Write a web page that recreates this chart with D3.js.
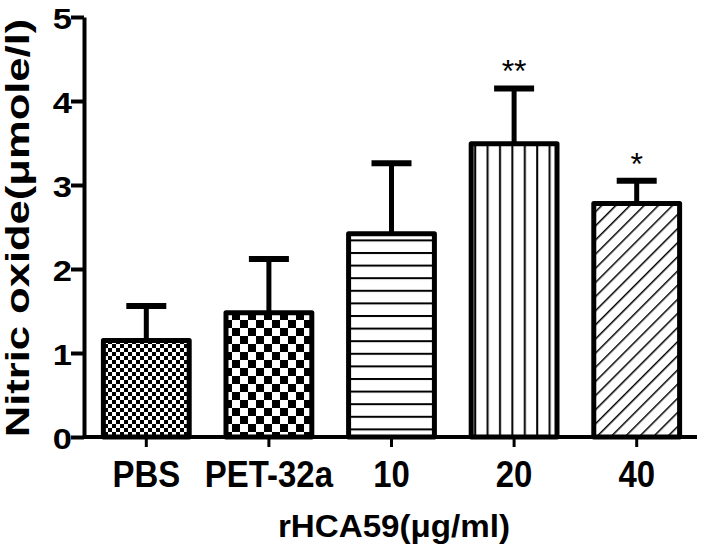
<!DOCTYPE html>
<html>
<head>
<meta charset="utf-8">
<script src="https://cdn.jsdelivr.net/npm/d3@7"></script>
<style>
  body { margin: 0; background: #fff; }
  text { font-family: "Liberation Sans", Arial, sans-serif; font-weight: bold; fill: #000; }
</style>
</head>
<body>
<svg id="chart"></svg>
<script>
// data
const groups = ["PBS", "PET-32a", "10", "20", "40"]
const means = [1.15, 1.48, 2.42, 3.49, 2.78]
const errors = [0.41, 0.64, 0.84, 0.66, 0.27]
const marks = ["", "", "", "**", "*"]
const patterns = ["fineCheck", "bigCheck", "hLines", "vLines", "diag"]
const yTicks = [0, 1, 2, 3, 4, 5]

let width = 707
let height = 548
let margin = { left: 84, right: 10, top: 17, bottom: 111 }

let svg = d3.select("#chart").attr("width", width).attr("height", height)

// patterns
let defs = svg.append("defs")

let p1 = defs.append("pattern").attr("id", "fineCheck").attr("patternUnits", "userSpaceOnUse")
    .attr("width", 8).attr("height", 8)
p1.append("rect").attr("width", 8).attr("height", 8).attr("fill", "#fff")
p1.append("rect").attr("width", 4).attr("height", 4).attr("fill", "#000")
p1.append("rect").attr("x", 4).attr("y", 4).attr("width", 4).attr("height", 4).attr("fill", "#000")

let p2 = defs.append("pattern").attr("id", "bigCheck").attr("patternUnits", "userSpaceOnUse")
    .attr("width", 16).attr("height", 16)
p2.append("rect").attr("width", 16).attr("height", 16).attr("fill", "#fff")
p2.append("rect").attr("width", 8).attr("height", 8).attr("fill", "#000")
p2.append("rect").attr("x", 8).attr("y", 8).attr("width", 8).attr("height", 8).attr("fill", "#000")

let p3 = defs.append("pattern").attr("id", "hLines").attr("patternUnits", "userSpaceOnUse")
    .attr("width", 12).attr("height", 12.6)
p3.append("rect").attr("width", 12).attr("height", 12.6).attr("fill", "#fff")
p3.append("line").attr("x1", 0).attr("x2", 12).attr("y1", 1).attr("y2", 1)
    .attr("stroke", "#000").attr("stroke-width", 2)

let p4 = defs.append("pattern").attr("id", "vLines").attr("patternUnits", "userSpaceOnUse")
    .attr("width", 12.4).attr("height", 12)
p4.append("rect").attr("width", 12.4).attr("height", 12).attr("fill", "#fff")
p4.append("line").attr("x1", 4).attr("x2", 4).attr("y1", 0).attr("y2", 12)
    .attr("stroke", "#000").attr("stroke-width", 2)

let p5 = defs.append("pattern").attr("id", "diag").attr("patternUnits", "userSpaceOnUse")
    .attr("width", 10).attr("height", 10).attr("patternTransform", "rotate(45)")
p5.append("rect").attr("width", 10).attr("height", 10).attr("fill", "#fff")
p5.append("line").attr("x1", 0).attr("x2", 0).attr("y1", 0).attr("y2", 10)
    .attr("stroke", "#000").attr("stroke-width", 3)

// scales
let xScale = d3.scaleBand()
    .domain(groups)
    .range([margin.left + 1, width - margin.right + 1])
    .paddingInner(0.3)
    .paddingOuter(0.15)

let yScale = d3.scaleLinear()
    .domain([0, 5])
    .range([height - margin.bottom, margin.top])

// bars
let bars = svg.selectAll(".bar")
    .data(groups)
    .enter()
    .append("g")
    .attr("class", "bar")

bars.append("line")
    .attr("x1", d => xScale(d) + xScale.bandwidth() / 2)
    .attr("x2", d => xScale(d) + xScale.bandwidth() / 2)
    .attr("y1", (d, i) => yScale(means[i]))
    .attr("y2", (d, i) => yScale(means[i] + errors[i]))
    .attr("stroke", "#000").attr("stroke-width", 5)

bars.append("line")
    .attr("x1", d => xScale(d) + xScale.bandwidth() / 2 - 20)
    .attr("x2", d => xScale(d) + xScale.bandwidth() / 2 + 20)
    .attr("y1", (d, i) => yScale(means[i] + errors[i]))
    .attr("y2", (d, i) => yScale(means[i] + errors[i]))
    .attr("stroke", "#000").attr("stroke-width", 6)

bars.append("rect")
    .attr("x", d => xScale(d))
    .attr("y", (d, i) => yScale(means[i]))
    .attr("width", xScale.bandwidth())
    .attr("height", (d, i) => yScale(0) - yScale(means[i]))
    .attr("fill", (d, i) => "url(#" + patterns[i] + ")")
    .attr("stroke", "#000")
    .attr("stroke-width", 5)
    .attr("stroke-linejoin", "round")

bars.append("text")
    .attr("x", d => xScale(d) + xScale.bandwidth() / 2)
    .attr("y", (d, i) => yScale(means[i] + errors[i]) - 6)
    .attr("text-anchor", "middle")
    .style("font-weight", "normal")
    .style("font-size", "32px")
    .text((d, i) => marks[i])

// axes
let xAxis = d3.axisBottom(xScale).tickSize(10).tickSizeOuter(0).tickPadding(13)
let yAxis = d3.axisLeft(yScale).tickValues(yTicks).tickFormat(d3.format("d"))
    .tickSize(13).tickSizeOuter(0).tickPadding(2)

let gx = svg.append("g")
    .attr("transform", "translate(0," + yScale(0) + ")")
    .call(xAxis)
gx.select(".domain").attr("d", "M" + margin.left + ",0H" + (width - margin.right)).attr("stroke-width", 4)
gx.selectAll(".tick line").attr("stroke-width", 3)
gx.selectAll(".tick text")
    .attr("y", 0)
    .attr("dy", 0)
    .attr("transform", "translate(0,50) scale(0.89,1)")
    .style("font-size", "37px")
    .style("font-weight", "bold")

let gy = svg.append("g")
    .attr("transform", "translate(" + margin.left + ",0)")
    .call(yAxis)
gy.select(".domain").attr("stroke-width", 4)
gy.selectAll(".tick line").attr("stroke-width", 4)
gy.selectAll(".tick text")
    .attr("x", 0)
    .attr("dy", 0)
    .attr("transform", "translate(-12,11) scale(1.15,1)")
    .style("font-size", "30px")
    .style("font-weight", "bold")

// axis titles
svg.append("text")
    .attr("transform", "translate(394,537) scale(1.07,1)")
    .attr("text-anchor", "middle")
    .style("font-size", "31px")
    .text("rHCA59(μg/ml)")

svg.append("text")
    .attr("transform", "translate(29,228) rotate(-90) scale(1.32,1)")
    .attr("text-anchor", "middle")
    .style("font-size", "33px")
    .text("Nitric oxide(μmole/l)")
</script>
</body>
</html>
